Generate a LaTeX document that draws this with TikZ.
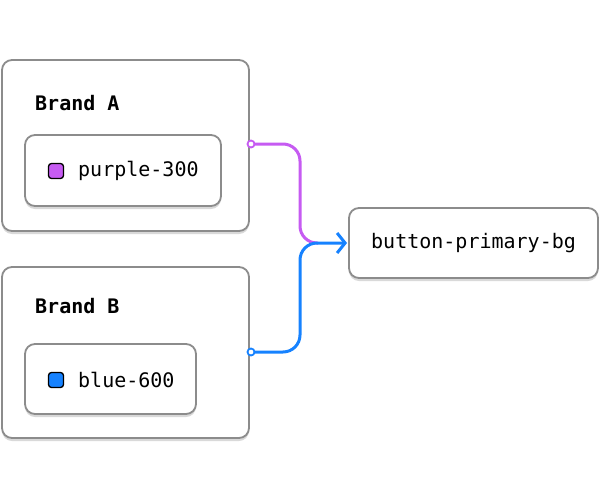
\documentclass[tikz,border=0pt]{standalone}
\usepackage{fontspec}
\setmonofont{DejaVu Sans Mono}
\usetikzlibrary{shadows,arrows.meta}
\definecolor{brdgray}{HTML}{8C8C8C}
\definecolor{purpl}{HTML}{C65BF2}
\definecolor{bluu}{HTML}{1682FF}
\tikzset{
  card/.style={draw=brdgray, line width=1.8pt, rounded corners=10pt, fill=white,
    drop shadow={shadow xshift=0pt, shadow yshift=-3pt, opacity=0.25, fill=black!60}},
  swatch/.style={draw=black, line width=1.3pt, rounded corners=3pt, minimum size=15pt, inner sep=0pt},
  label/.style={font=\ttfamily\fontsize{20}{23}\selectfont, anchor=west, inner sep=0pt},
  link/.style={line width=3pt, rounded corners=17pt},
  dot/.style={circle, draw, fill=white, line width=1.8pt, inner sep=0pt, minimum size=7pt}
}
\begin{document}
\begin{tikzpicture}[x=1pt,y=-1pt]
\useasboundingbox (0,0) rectangle (600,498);
% brand cards
\draw[card] (2,60) rectangle (249,231);
\node[label, font=\ttfamily\bfseries\fontsize{20}{23}\selectfont] (brandA) at (35,103) {Brand A};
\draw[card] (25,135) rectangle (221,206);
\node[swatch, fill=purpl] (swA) at (56,171) {};
\node[label] (tokA) at (78,171) {purple-300};
\draw[card] (2,267) rectangle (249,438);
\node[label, font=\ttfamily\bfseries\fontsize{20}{23}\selectfont] (brandB) at (35,306) {Brand B};
\draw[card] (25,344) rectangle (196,414);
\node[swatch, fill=bluu] (swB) at (56,380) {};
\node[label] (tokB) at (78,380) {blue-600};
% target
\draw[card] (349,208) rectangle (598,278);
\node[label] (target) at (371,243) {button-primary-bg};
% connectors
\coordinate (outA) at (251,144);
\coordinate (outB) at (251,352);
\coordinate (bend) at (300,243);
\coordinate (inT) at (347,243);
\draw[link, purpl] (outA) -| (bend) -- (318,243);
\draw[link, bluu, -{Straight Barb[length=8pt,width=20pt]}] (outB) -| (bend) -- (inT);
\node[dot, draw=purpl] at (outA) {};
\node[dot, draw=bluu] at (outB) {};
\end{tikzpicture}
\end{document}
